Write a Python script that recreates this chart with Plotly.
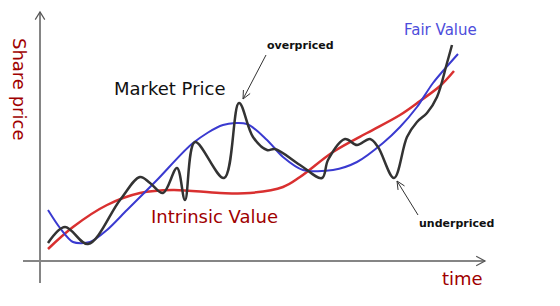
import numpy as np
import plotly.graph_objects as go

# ---- data (time units, price units; origin at the axes crossing) ----
market_t = [8, 25, 48, 80, 100, 110, 123, 137, 145, 155, 184, 199, 213, 227, 235, 260, 282, 288, 305, 317, 330, 338, 354, 367, 377, 387, 397, 407, 412]
market_p = [18, 34, 17, 61, 84, 78, 68, 93, 61, 119, 83, 158, 124, 111, 112, 96, 83, 101, 122, 116, 122, 114, 83, 124, 139, 148, 164, 198, 216]

fair_t = [8, 20, 33, 50, 67, 87, 117, 153, 183, 207, 227, 243, 263, 293, 317, 343, 360, 377, 393, 418]
fair_p = [51, 33, 19, 19, 31, 51, 81, 118, 136, 137, 121, 104, 91, 91, 99, 118, 134, 154, 178, 207]

intr_t = [8, 33, 67, 100, 133, 180, 210, 243, 260, 293, 327, 360, 380, 400, 414]
intr_p = [12, 34, 56, 68, 71, 68, 68, 74, 84, 109, 128, 146, 160, 175, 190]

labels = {
    "y_title": "Share price",
    "x_title": "time",
    "market": "Market Price",
    "intrinsic": "Intrinsic Value",
    "fair": "Fair Value",
    "over": "overpriced",
    "under": "underpriced",
}

DARKRED = "#a00000"
FONT = "DejaVu Sans"

fig = go.Figure()
fig.add_trace(go.Scatter(x=intr_t, y=intr_p, mode="lines",
                         line=dict(color="#d93030", width=2.5, shape="spline", smoothing=1.0),
                         hoverinfo="skip"))
fig.add_trace(go.Scatter(x=fair_t, y=fair_p, mode="lines",
                         line=dict(color="#3a3ad0", width=2, shape="spline", smoothing=0.8),
                         hoverinfo="skip"))
fig.add_trace(go.Scatter(x=market_t, y=market_p, mode="lines",
                         line=dict(color="#333333", width=2.5, shape="spline", smoothing=1.0),
                         hoverinfo="skip"))


def chevron(tip, tail, length=8.0, ang=np.deg2rad(30)):
    tip = np.array(tip, float)
    tail = np.array(tail, float)
    d = (tail - tip) / np.linalg.norm(tail - tip)
    def rot(v, a):
        c, s = np.cos(a), np.sin(a)
        return np.array([c * v[0] - s * v[1], s * v[0] + c * v[1]])
    a1 = tip + rot(d, ang) * length
    a2 = tip + rot(d, -ang) * length
    return f"M {a1[0]},{a1[1]} L {tip[0]},{tip[1]} L {a2[0]},{a2[1]}"


shapes = []
AX = dict(color="#858585", width=2)
# axes
shapes.append(dict(type="line", x0=0, y0=-22, x1=0, y1=249, line=AX, layer="below"))
shapes.append(dict(type="line", x0=-17, y0=0, x1=445, y1=0, line=AX, layer="below"))
shapes.append(dict(type="path", path=chevron((0, 249), (0, 0), 9, np.deg2rad(32)), line=dict(color="#555", width=1.2)))
shapes.append(dict(type="path", path=chevron((445, 0), (0, 0), 10, np.deg2rad(28)), line=dict(color="#555", width=1.2)))
# annotation arrows
over_tail, over_tip = (226, 206), (203, 162)
under_tail, under_tip = (378, 46), (357, 80)
for tail, tip in [(over_tail, over_tip), (under_tail, under_tip)]:
    shapes.append(dict(type="line", x0=tail[0], y0=tail[1], x1=tip[0], y1=tip[1],
                       line=dict(color="#333", width=1)))
    shapes.append(dict(type="path", path=chevron(tip, tail, 9, np.deg2rad(25)),
                       line=dict(color="#333", width=1)))

ann = []
def txt(x, y, s, size, color, angle=0, bold=False, family=FONT):
    ann.append(dict(x=x, y=y, text=f"<b>{s}</b>" if bold else s, showarrow=False,
                    textangle=angle, font=dict(family=family, size=size, color=color),
                    xanchor="center", yanchor="middle"))

txt(-20, 172, labels["y_title"], 18, DARKRED, angle=90)
txt(422, -17, labels["x_title"], 18, DARKRED)
txt(130, 173, labels["market"], 18, "#111111")
txt(174, 45, labels["intrinsic"], 18, DARKRED)
txt(400, 231, labels["fair"], 15, "#4d4ddb")
txt(260, 216, labels["over"], 11, "#111111", bold=True)
txt(416, 38, labels["under"], 11, "#111111", bold=True)

fig.update_layout(
    width=560, height=306,
    margin=dict(l=0, r=0, t=0, b=0),
    paper_bgcolor="white", plot_bgcolor="white",
    showlegend=False,
    xaxis=dict(range=[-40, 520], visible=False, fixedrange=True),
    yaxis=dict(range=[-45, 261], visible=False, fixedrange=True),
    shapes=shapes,
    annotations=ann,
)
fig.write_html("out.html")
